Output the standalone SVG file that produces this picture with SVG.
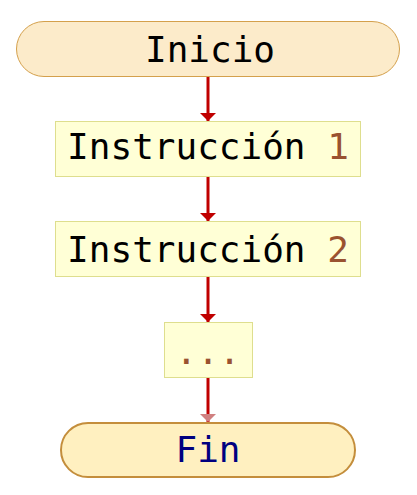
<svg xmlns="http://www.w3.org/2000/svg" width="417" height="495" viewBox="0 0 417 495">
<defs>
<style>
.t{font-family:"DejaVu Sans Mono","Liberation Mono",monospace;font-size:36px;text-anchor:middle;fill:#000}
.num{fill:#9a5230}
.box{fill:#ffffd6;stroke:#dede8e;stroke-width:1}
.edge{stroke:#c00000;stroke-width:3;fill:none}
</style>
<marker id="ah" markerWidth="8" markerHeight="16" refX="8" refY="8" orient="auto" markerUnits="userSpaceOnUse">
<path d="M0,0 L8,8 L0,16 z" fill="#c00000"/>
</marker>
<marker id="ahp" markerWidth="8" markerHeight="16" refX="8" refY="8" orient="auto" markerUnits="userSpaceOnUse">
<path d="M0,0 L8,8 L0,16 z" fill="#d08080"/>
</marker>
</defs>
<rect width="417" height="495" fill="#fff"/>
<g id="connectors">
<line class="edge" x1="208" y1="76" x2="208" y2="121" marker-end="url(#ah)"/>
<line class="edge" x1="208" y1="176" x2="208" y2="221" marker-end="url(#ah)"/>
<line class="edge" x1="208" y1="276" x2="208" y2="322" marker-end="url(#ah)"/>
<line class="edge" x1="208" y1="377" x2="208" y2="422" marker-end="url(#ahp)"/>
</g>
<g id="inicio">
<rect x="16.5" y="21.5" width="383" height="55" rx="27.5" fill="#fcebca" stroke="#d4a04c" stroke-width="1"/>
<text class="t" x="210" y="62">Inicio</text>
</g>
<g id="instr1">
<rect class="box" x="55.5" y="121.5" width="305" height="55"/>
<text class="t" x="208" y="159">Instrucción <tspan class="num">1</tspan></text>
</g>
<g id="instr2">
<rect class="box" x="55.5" y="221.5" width="305" height="55"/>
<text class="t" x="208" y="262">Instrucción <tspan class="num">2</tspan></text>
</g>
<g id="dots">
<rect class="box" x="164.5" y="322.5" width="88" height="55"/>
<text class="t num" x="208" y="364">...</text>
</g>
<g id="fin">
<rect x="61" y="423" width="294" height="54" rx="27" fill="#fff0c0" stroke="#c48e3c" stroke-width="2"/>
<text class="t" x="208" y="462" style="fill:#000080">Fin</text>
</g>
</svg>
